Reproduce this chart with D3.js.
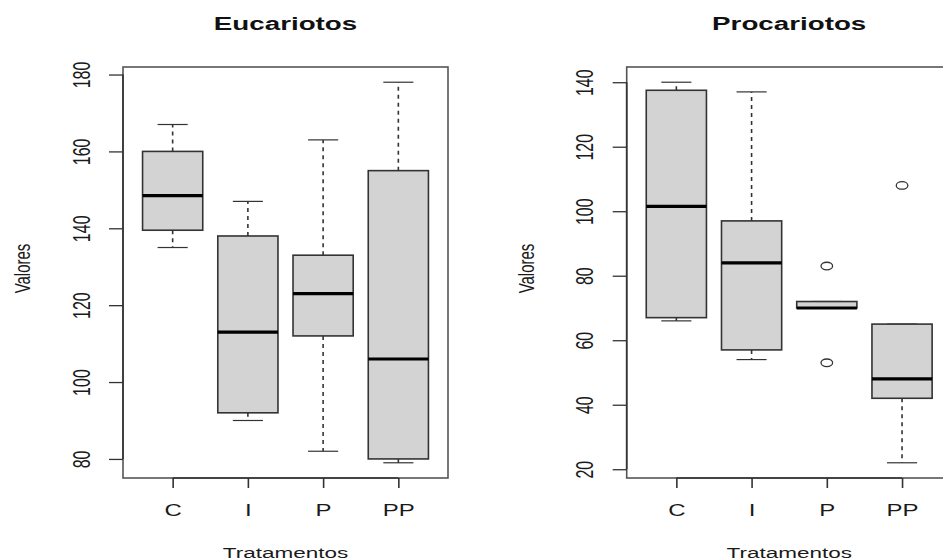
<!DOCTYPE html>
<html>
<head>
<meta charset="utf-8">
<script src="https://cdn.jsdelivr.net/npm/d3@7"></script>
<style>
  body { margin: 0; background: #fff; }
  svg { display: block; font-family: "Liberation Sans", Arial, sans-serif; }
</style>
</head>
<body>
<svg id="chart" width="943" height="560"></svg>
<script>
// Two R-style boxplots side by side: Eucariotos / Procariotos.

const groups = ["C", "I", "P", "PP"];

// Eucariotos: whisker low, Q1, median, Q3, whisker high
const eucWhiskLo = [135, 90, 82, 79];
const eucQ1      = [139.5, 92, 112, 80];
const eucMed     = [148.5, 113, 123, 106];
const eucQ3      = [160, 138, 133, 155];
const eucWhiskHi = [167, 147, 163, 178];
const eucOut     = [[], [], [], []];
const eucTicks   = [80, 100, 120, 140, 160, 180];

// Procariotos
const proWhiskLo = [66, 54, 70, 22];
const proQ1      = [67, 57, 70, 42];
const proMed     = [101.5, 84, 70, 48];
const proQ3      = [137.5, 97, 72, 65];
const proWhiskHi = [140, 137, 72, 65];
const proOut     = [[], [], [83, 53], [108]];
const proTicks   = [20, 40, 60, 80, 100, 120, 140];

const stretch = 1.5;   // the original is widened horizontally
const plotTop = 67, plotBottom = 478, plotW = 325;

const svg = d3.select("#chart");

function panel(left, title, lo, q1, med, q3, hi, outs, ticks) {
  const rows = groups.map((g, i) => ({ g, i: i + 1, lo: lo[i], q1: q1[i], med: med[i], q3: q3[i], hi: hi[i], out: outs[i] }));
  const all = rows.flatMap(d => [d.lo, d.hi, ...d.out]);
  const [mn, mx] = d3.extent(all);
  const pad = (mx - mn) * 0.04;

  const y = d3.scaleLinear().domain([mn - pad, mx + pad]).range([plotBottom, plotTop]);
  const x = d3.scaleLinear().domain([0.5 - 0.16, groups.length + 0.5 + 0.16]).range([0, plotW]);

  const g = svg.append("g").attr("transform", `translate(${left},0)`);

  // frame
  g.append("rect")
    .attr("x", 0).attr("y", plotTop)
    .attr("width", plotW).attr("height", plotBottom - plotTop)
    .attr("fill", "none").attr("stroke", "#555").attr("stroke-width", 1.6);

  const boxW = x(1.4) - x(1), capW = x(1.2) - x(1);
  const stroke = "#333";

  const b = g.selectAll("g.box").data(rows).join("g").attr("class", "box");

  // whiskers
  b.append("line")
    .attr("x1", d => x(d.i)).attr("x2", d => x(d.i))
    .attr("y1", d => y(d.q3)).attr("y2", d => y(d.hi))
    .attr("stroke", stroke).attr("stroke-width", 1.6).attr("stroke-dasharray", "4,4");
  b.append("line")
    .attr("x1", d => x(d.i)).attr("x2", d => x(d.i))
    .attr("y1", d => y(d.q1)).attr("y2", d => y(d.lo))
    .attr("stroke", stroke).attr("stroke-width", 1.6).attr("stroke-dasharray", "4,4");
  // staples
  b.append("line")
    .attr("x1", d => x(d.i) - capW).attr("x2", d => x(d.i) + capW)
    .attr("y1", d => y(d.hi)).attr("y2", d => y(d.hi))
    .attr("stroke", stroke).attr("stroke-width", 1.2);
  b.append("line")
    .attr("x1", d => x(d.i) - capW).attr("x2", d => x(d.i) + capW)
    .attr("y1", d => y(d.lo)).attr("y2", d => y(d.lo))
    .attr("stroke", stroke).attr("stroke-width", 1.2);
  // box
  b.append("rect")
    .attr("x", d => x(d.i) - boxW).attr("width", boxW * 2)
    .attr("y", d => y(d.q3)).attr("height", d => y(d.q1) - y(d.q3))
    .attr("fill", "#d3d3d3").attr("stroke", stroke).attr("stroke-width", 1.6);
  // median
  b.append("line")
    .attr("x1", d => x(d.i) - boxW).attr("x2", d => x(d.i) + boxW)
    .attr("y1", d => y(d.med)).attr("y2", d => y(d.med))
    .attr("stroke", "#000").attr("stroke-width", 3.2);
  // outliers
  b.selectAll("ellipse").data(d => d.out.map(v => ({ i: d.i, v }))).join("ellipse")
    .attr("cx", d => x(d.i)).attr("cy", d => y(d.v))
    .attr("rx", 5.8).attr("ry", 3.8)
    .attr("fill", "none").attr("stroke", stroke).attr("stroke-width", 1.3);

  // left axis
  const yAxis = g.append("g")
    .call(d3.axisLeft(y).tickValues(ticks).tickSize(14).tickFormat(d3.format("d")));
  yAxis.select(".domain").attr("d", `M0,${y(ticks[0])}V${y(ticks[ticks.length - 1])}`)
    .attr("stroke", "#333").attr("stroke-width", 1.6);
  yAxis.selectAll(".tick line").attr("stroke", "#333").attr("stroke-width", 1.3);
  yAxis.selectAll(".tick text")
    .attr("x", 0).attr("dy", "0.36em")
    .attr("text-anchor", "middle")
    .attr("transform", `translate(-42,0) scale(${stretch},1) rotate(-90)`)
    .attr("font-size", 16).attr("fill", "#1a1a1a");
  yAxis.attr("font-family", null).attr("font-size", null);

  // bottom axis
  const xAxis = g.append("g")
    .attr("transform", `translate(0,${plotBottom})`)
    .call(d3.axisBottom(x).tickValues(rows.map(d => d.i)).tickSize(10).tickFormat(i => groups[i - 1]));
  xAxis.select(".domain").attr("d", `M${x(1)},0H${x(groups.length)}`)
    .attr("stroke", "#333").attr("stroke-width", 1.6);
  xAxis.selectAll(".tick line").attr("stroke", "#333").attr("stroke-width", 1.6);
  xAxis.selectAll(".tick text")
    .attr("y", 0).attr("dy", 0)
    .attr("transform", `translate(0,38) scale(${stretch},1)`)
    .attr("font-size", 16).attr("fill", "#1a1a1a");
  xAxis.attr("font-family", null).attr("font-size", null);

  // title and axis labels
  g.append("text")
    .attr("transform", `translate(${plotW / 2},30) scale(${stretch},1)`)
    .attr("text-anchor", "middle")
    .attr("font-weight", "bold").attr("font-size", 18.5).attr("fill", "#111")
    .text(title);

  g.append("text")
    .attr("transform", `translate(${plotW / 2},558) scale(${stretch},1)`)
    .attr("text-anchor", "middle")
    .attr("font-size", 15).attr("fill", "#1a1a1a")
    .text("Tratamentos");

  g.append("text")
    .attr("transform", `translate(-101,${(plotTop + plotBottom) / 2 - 4}) scale(${stretch},1) rotate(-90)`)
    .attr("text-anchor", "middle").attr("dy", "0.36em")
    .attr("font-size", 15).attr("fill", "#1a1a1a")
    .text("Valores");
}

panel(123, "Eucariotos", eucWhiskLo, eucQ1, eucMed, eucQ3, eucWhiskHi, eucOut, eucTicks);
panel(626.7, "Procariotos", proWhiskLo, proQ1, proMed, proQ3, proWhiskHi, proOut, proTicks);
</script>
</body>
</html>
